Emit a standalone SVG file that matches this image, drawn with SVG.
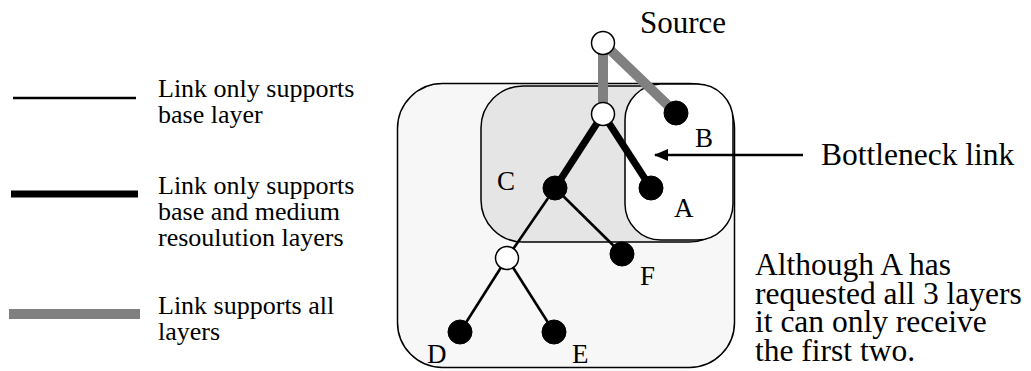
<svg xmlns="http://www.w3.org/2000/svg" width="1031" height="371" viewBox="0 0 1031 371">
  <defs>
    <style>
      text { font-family: "Liberation Serif", "Times New Roman", serif; fill: #000; }
      .leg { font-size: 26px; }
      .big { font-size: 31px; }
      .note { font-size: 31.5px; }
      .lbl { font-size: 27px; }
      .region { stroke: #000; stroke-width: 1.5; }
      .base { stroke: #000; stroke-width: 2.6; stroke-linecap: butt; fill: none; }
      .medium { stroke: #000; stroke-width: 7; stroke-linecap: butt; fill: none; }
      .all { stroke: #808080; stroke-width: 10; stroke-linecap: butt; fill: none; }
      .router { fill: #fff; stroke: #000; stroke-width: 1.5; }
      .receiver { fill: #000; stroke: #000; stroke-width: 1; }
    </style>
    <marker id="arrow" viewBox="0 0 14 12" refX="13" refY="6" markerWidth="14" markerHeight="12" markerUnits="userSpaceOnUse" orient="auto">
      <path d="M0,0 L14,6 L0,12 Z" fill="#000"/>
    </marker>
  </defs>

  <!-- legend -->
  <g id="legend">
    <line class="base" x1="13" y1="98" x2="136" y2="98"/>
    <text class="leg" x="158" y="97">Link only supports</text>
    <text class="leg" x="158" y="123">base layer</text>

    <line class="medium" x1="11" y1="194" x2="138" y2="194"/>
    <text class="leg" x="158" y="194">Link only supports</text>
    <text class="leg" x="158" y="220">base and medium</text>
    <text class="leg" x="158" y="246">resoulution layers</text>

    <line class="all" x1="9" y1="314" x2="140" y2="314" stroke-width="9"/>
    <text class="leg" x="158" y="314">Link supports all</text>
    <text class="leg" x="158" y="340">layers</text>
  </g>

  <!-- receiver regions -->
  <g id="regions">
    <rect id="region-outer" class="region" x="397.5" y="83.5" width="337" height="284" rx="45" ry="45" fill="#f7f7f7"/>
    <rect id="region-c" class="region" x="481" y="86" width="250" height="156" rx="42" ry="42" fill="#e5e5e5"/>
    <rect id="region-ab" class="region" x="625" y="84" width="108" height="156" rx="36" ry="36" fill="#fff"/>
  </g>

  <!-- links -->
  <g id="connectors">
    <line class="all" x1="603" y1="43" x2="603" y2="114"/>
    <line class="all" x1="603" y1="43" x2="676" y2="113"/>
    <line class="medium" x1="603" y1="114" x2="555" y2="188"/>
    <line class="medium" x1="603" y1="114" x2="651" y2="188"/>
    <line class="base" x1="555" y1="188" x2="507" y2="258"/>
    <line class="base" x1="555" y1="188" x2="622" y2="254"/>
    <line class="base" x1="507" y1="258" x2="460" y2="332"/>
    <line class="base" x1="507" y1="258" x2="554" y2="332"/>
    <line id="bottleneck-pointer" x1="803" y1="155" x2="655" y2="155" stroke="#000" stroke-width="2.5" marker-end="url(#arrow)"/>
  </g>

  <!-- nodes -->
  <g id="node-source">
    <circle class="router" cx="603" cy="43" r="11.5"/>
    <text class="big" x="640" y="33">Source</text>
  </g>
  <g id="node-router1">
    <circle class="router" cx="603" cy="114" r="11.5"/>
  </g>
  <g id="node-b">
    <circle class="receiver" cx="676" cy="113" r="12"/>
    <text class="lbl" x="695" y="147">B</text>
  </g>
  <g id="node-c">
    <circle class="receiver" cx="555" cy="188" r="12"/>
    <text class="lbl" x="497" y="190">C</text>
  </g>
  <g id="node-a">
    <circle class="receiver" cx="651" cy="188" r="12"/>
    <text class="lbl" x="674" y="217">A</text>
  </g>
  <g id="node-router2">
    <circle class="router" cx="507" cy="258" r="11.5"/>
  </g>
  <g id="node-f">
    <circle class="receiver" cx="622" cy="254" r="12"/>
    <text class="lbl" x="640" y="285">F</text>
  </g>
  <g id="node-d">
    <circle class="receiver" cx="460" cy="332" r="12"/>
    <text class="lbl" x="427" y="363">D</text>
  </g>
  <g id="node-e">
    <circle class="receiver" cx="554" cy="332" r="12"/>
    <text class="lbl" x="572" y="363">E</text>
  </g>

  <!-- annotations -->
  <g id="note-bottleneck">
    <text class="note" x="821" y="165">Bottleneck link</text>
  </g>
  <g id="note-explanation">
    <text class="note" x="755" y="275">Although A has</text>
    <text class="note" x="755" y="303.5">requested all 3 layers</text>
    <text class="note" x="755" y="332">it can only receive</text>
    <text class="note" x="755" y="360.5">the first two.</text>
  </g>
</svg>
